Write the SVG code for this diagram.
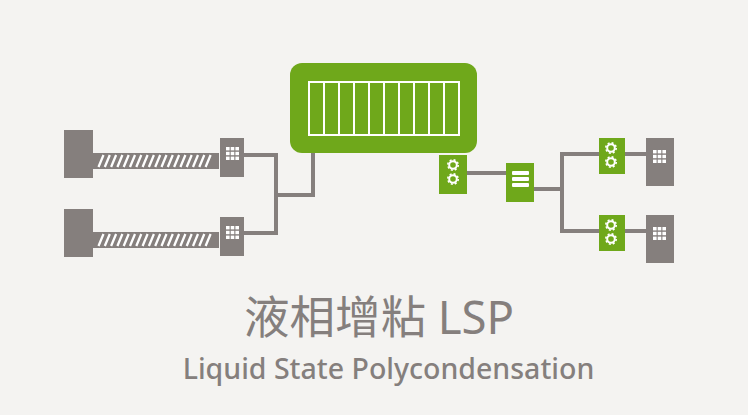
<svg xmlns="http://www.w3.org/2000/svg" xmlns:xlink="http://www.w3.org/1999/xlink" width="748" height="415" viewBox="0 0 748 415">
<style>
.g{fill:#857f7d}
.p{fill:#6fa81b}
.c{fill:none;stroke:#857f7d;stroke-width:4}
.w{fill:#fff}
.wl{fill:none;stroke:#fff;stroke-width:2}
.t{fill:#857f7d;font-family:"Noto Sans","Noto Sans CJK TC",sans-serif;text-anchor:middle}
</style>
<defs>
<g id="gear">
<circle r="3.8" fill="none" stroke="#fff" stroke-width="2"/>
<circle r="5.2" fill="none" stroke="#fff" stroke-width="1.6" stroke-dasharray="2 2.08"/>
</g>
<g id="grid" class="w">
<rect x="0" y="0" width="3.6" height="3.4"/><rect x="4.7" y="0" width="3.6" height="3.4"/><rect x="9.400" y="0" width="3.6" height="3.4"/>
<rect x="0" y="4.800" width="3.6" height="3.4"/><rect x="4.7" y="4.800" width="3.6" height="3.4"/><rect x="9.400" y="4.800" width="3.6" height="3.4"/>
<rect x="0" y="9.600" width="3.6" height="3.4"/><rect x="4.7" y="9.600" width="3.6" height="3.4"/><rect x="9.400" y="9.600" width="3.6" height="3.4"/>
</g>
<path id="stripes" fill="none" stroke="#fff" stroke-width="2.3" d="M98.500 167l5-12M104.800 167l5-12M111.100 167l5-12M117.400 167l5-12M123.700 167l5-12M130 167l5-12M136.300 167l5-12M142.600 167l5-12M148.900 167l5-12M155.200 167l5-12M161.500 167l5-12M167.800 167l5-12M174.100 167l5-12M180.400 167l5-12M186.700 167l5-12M193 167l5-12M199.300 167l5-12M205.600 167l5-12"/>
</defs>
<rect width="748" height="415" fill="#f4f3f1"/>
<g id="connectors">
<path class="c" d="M244 155H276V233H244M276 195H313V153"/>
<path class="c" d="M467 173H506M534 189H562M599 154H562V231H599M625 154H646M625 231H646"/>
</g>
<g id="extruder-top">
<rect class="g" x="64" y="130" width="29" height="48"/>
<rect class="g" x="93" y="153" width="126" height="16"/>
<use xlink:href="#stripes" href="#stripes"/>
</g>
<g id="extruder-bottom">
<rect class="g" x="64" y="209" width="29" height="48"/>
<rect class="g" x="93" y="232" width="126" height="16"/>
<use xlink:href="#stripes" href="#stripes" y="79"/>
</g>
<g id="control-top">
<rect class="g" x="220" y="138" width="24" height="39"/>
<use xlink:href="#grid" href="#grid" x="226" y="147"/>
</g>
<g id="control-bottom">
<rect class="g" x="220" y="217" width="24" height="39"/>
<use xlink:href="#grid" href="#grid" x="226" y="226"/>
</g>
<g id="reactor">
<rect class="p" x="290" y="63" width="187" height="90" rx="12"/>
<rect class="wl" x="309" y="82" width="150" height="53"/>
<path class="wl" d="M324 82V135M339 82V135M354 82V135M369 82V135M384 82V135M399 82V135M414 82V135M429 82V135M444 82V135"/>
</g>
<g id="pump-main">
<rect class="p" x="439" y="155" width="28" height="39"/>
<use xlink:href="#gear" href="#gear" x="453" y="165"/>
<use xlink:href="#gear" href="#gear" x="453" y="179"/>
</g>
<g id="filter">
<rect class="p" x="506" y="163" width="28" height="39"/>
<rect class="w" x="512" y="171" width="17" height="4" rx="1"/>
<rect class="w" x="512" y="177" width="17" height="4" rx="1"/>
<rect class="w" x="512" y="183" width="17" height="4" rx="1"/>
</g>
<g id="pump-top">
<rect class="p" x="599" y="138" width="26" height="36"/>
<use xlink:href="#gear" href="#gear" x="611" y="148"/>
<use xlink:href="#gear" href="#gear" x="611" y="162"/>
</g>
<g id="pump-bottom">
<rect class="p" x="599" y="215" width="26" height="36"/>
<use xlink:href="#gear" href="#gear" x="611" y="225"/>
<use xlink:href="#gear" href="#gear" x="611" y="239"/>
</g>
<g id="output-top">
<rect class="g" x="646" y="138" width="28" height="48"/>
<use xlink:href="#grid" href="#grid" x="653" y="150"/>
</g>
<g id="output-bottom">
<rect class="g" x="646" y="215" width="28" height="48"/>
<use xlink:href="#grid" href="#grid" x="653" y="227"/>
</g>
<text class="t" x="379" y="334" font-size="45.500">液相增粘 LSP</text>
<text class="t" x="388.500" y="379" font-size="28.500" font-weight="500">Liquid State Polycondensation</text>
</svg>
